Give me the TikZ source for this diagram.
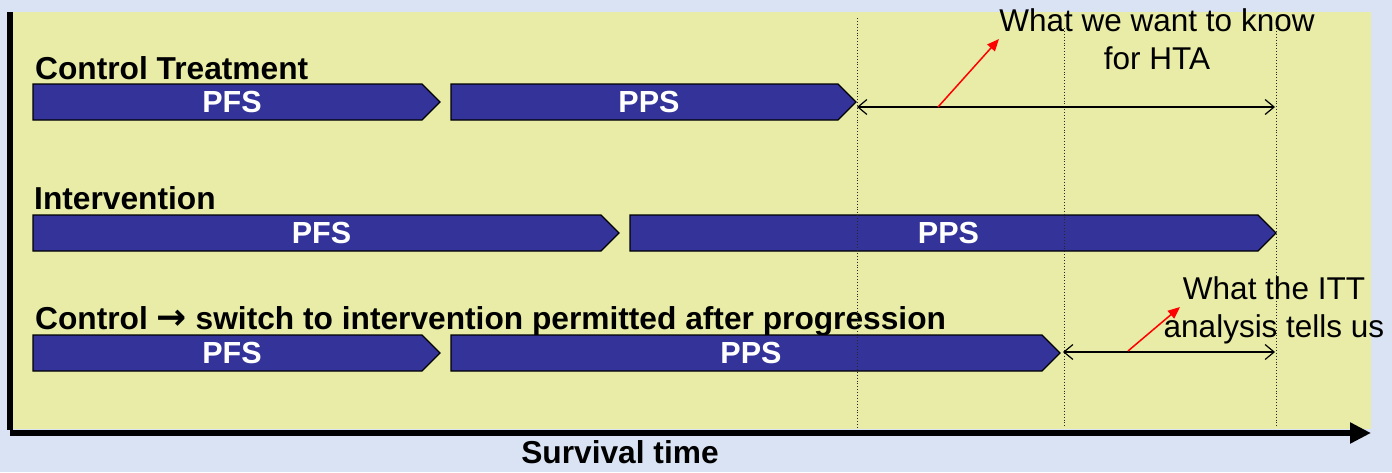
\documentclass[tikz,border=0pt]{standalone}
\usepackage{fontspec}
\setmainfont{Liberation Sans}
\newfontfamily\arrowfont{DejaVu Sans}
\usetikzlibrary{arrows.meta}
\definecolor{pagebg}{RGB}{218,227,243}
\definecolor{panel}{RGB}{232,236,166}
\definecolor{boxblue}{RGB}{51,51,153}
\definecolor{dotgray}{RGB}{40,40,40}
\newcommand\arrbox[5]{%
  \draw[arrbox] (#2,#4) -- (#3-18,#4) -- (#3,#4+18) -- (#3-18,#4+36) -- (#2,#4+36) -- cycle;
  \node[boxtext] (#1) at ({(#2+#3-9)/2},#4+18) {#5};}
\begin{document}
\begin{tikzpicture}[x=1pt,y=-1pt,
  arrbox/.style={fill=boxblue,draw=black,line width=1.2pt,line join=miter},
  boxtext/.style={text=white,font=\bfseries\fontsize{30.5}{36}\selectfont,inner sep=0pt},
  rowlabel/.style={font=\bfseries\fontsize{31.7}{38}\selectfont,anchor=base west,inner sep=0pt},
  note/.style={font=\fontsize{31.5}{38}\selectfont,align=center,anchor=north,inner sep=0pt},
  guide/.style={dotted,line width=0.9pt,dotgray},
  span/.style={line width=1.2pt,{Straight Barb[length=9pt,width=15pt]}-{Straight Barb[length=9pt,width=15pt]}},
  pointer/.style={red,line width=1.5pt,-{Triangle[length=12pt,width=10pt]}},
  axis/.style={line width=6pt,-{Triangle[length=21pt,width=20pt]}}]
\useasboundingbox (0,0) rectangle (1392,472);
\fill[pagebg] (0,0) rectangle (1392,472);
\fill[panel] (12,12) rectangle (1371,429);
\fill[black] (7,12) rectangle (13,430);
\coordinate (ax0) at (10,433);
\coordinate (ax1) at (1371,433);
\draw[axis] (ax0) -- (ax1);
\node[font=\bfseries\fontsize{31.7}{38}\selectfont,anchor=base,inner sep=0pt] (surv) at (620,463) {Survival time};

% row labels
\node[rowlabel] (lctrl) at (35,79) {Control Treatment};
\node[rowlabel] (lint) at (34,209) {Intervention};
\node[rowlabel] (lsw) at (35,329) {Control {\arrowfont\bfseries\fontsize{36}{38}\selectfont →} switch to intervention permitted after progression};

% arrow boxes
\arrbox{cpfs}{33}{440}{84}{PFS}
\arrbox{cpps}{451}{856}{84}{PPS}
\arrbox{ipfs}{33}{619}{215}{PFS}
\arrbox{ipps}{630}{1276}{215}{PPS}
\arrbox{spfs}{33}{440}{335}{PFS}
\arrbox{spps}{451}{1060}{335}{PPS}

% guides
\coordinate (g1t) at (857,18);  \coordinate (g1b) at (857,428);
\coordinate (g2t) at (1064,28); \coordinate (g2b) at (1064,428);
\coordinate (g3t) at (1276,28); \coordinate (g3b) at (1276,428);
\draw[guide] (g1t) -- (g1b);
\draw[guide] (g2t) -- (g2b);
\draw[guide] (g3t) -- (g3b);

% spans
\coordinate (s1a) at (857,107); \coordinate (s1b) at (1275,107);
\coordinate (s2a) at (1063,352); \coordinate (s2b) at (1275,352);
\draw[span] (s1a) -- (s1b);
\draw[span] (s2a) -- (s2b);

% notes
\node[note] (hta) at (1157,8.3) {What we want to know\\for HTA};
\node[note] (itt) at (1274,276.3) {What the ITT\\analysis tells us};
\coordinate (p1a) at (938,107); \coordinate (p1b) at (999,39);
\coordinate (p2a) at (1128,351); \coordinate (p2b) at (1180,307);
\draw[pointer] (p1a) -- (p1b);
\draw[pointer] (p2a) -- (p2b);
\end{tikzpicture}
\end{document}
